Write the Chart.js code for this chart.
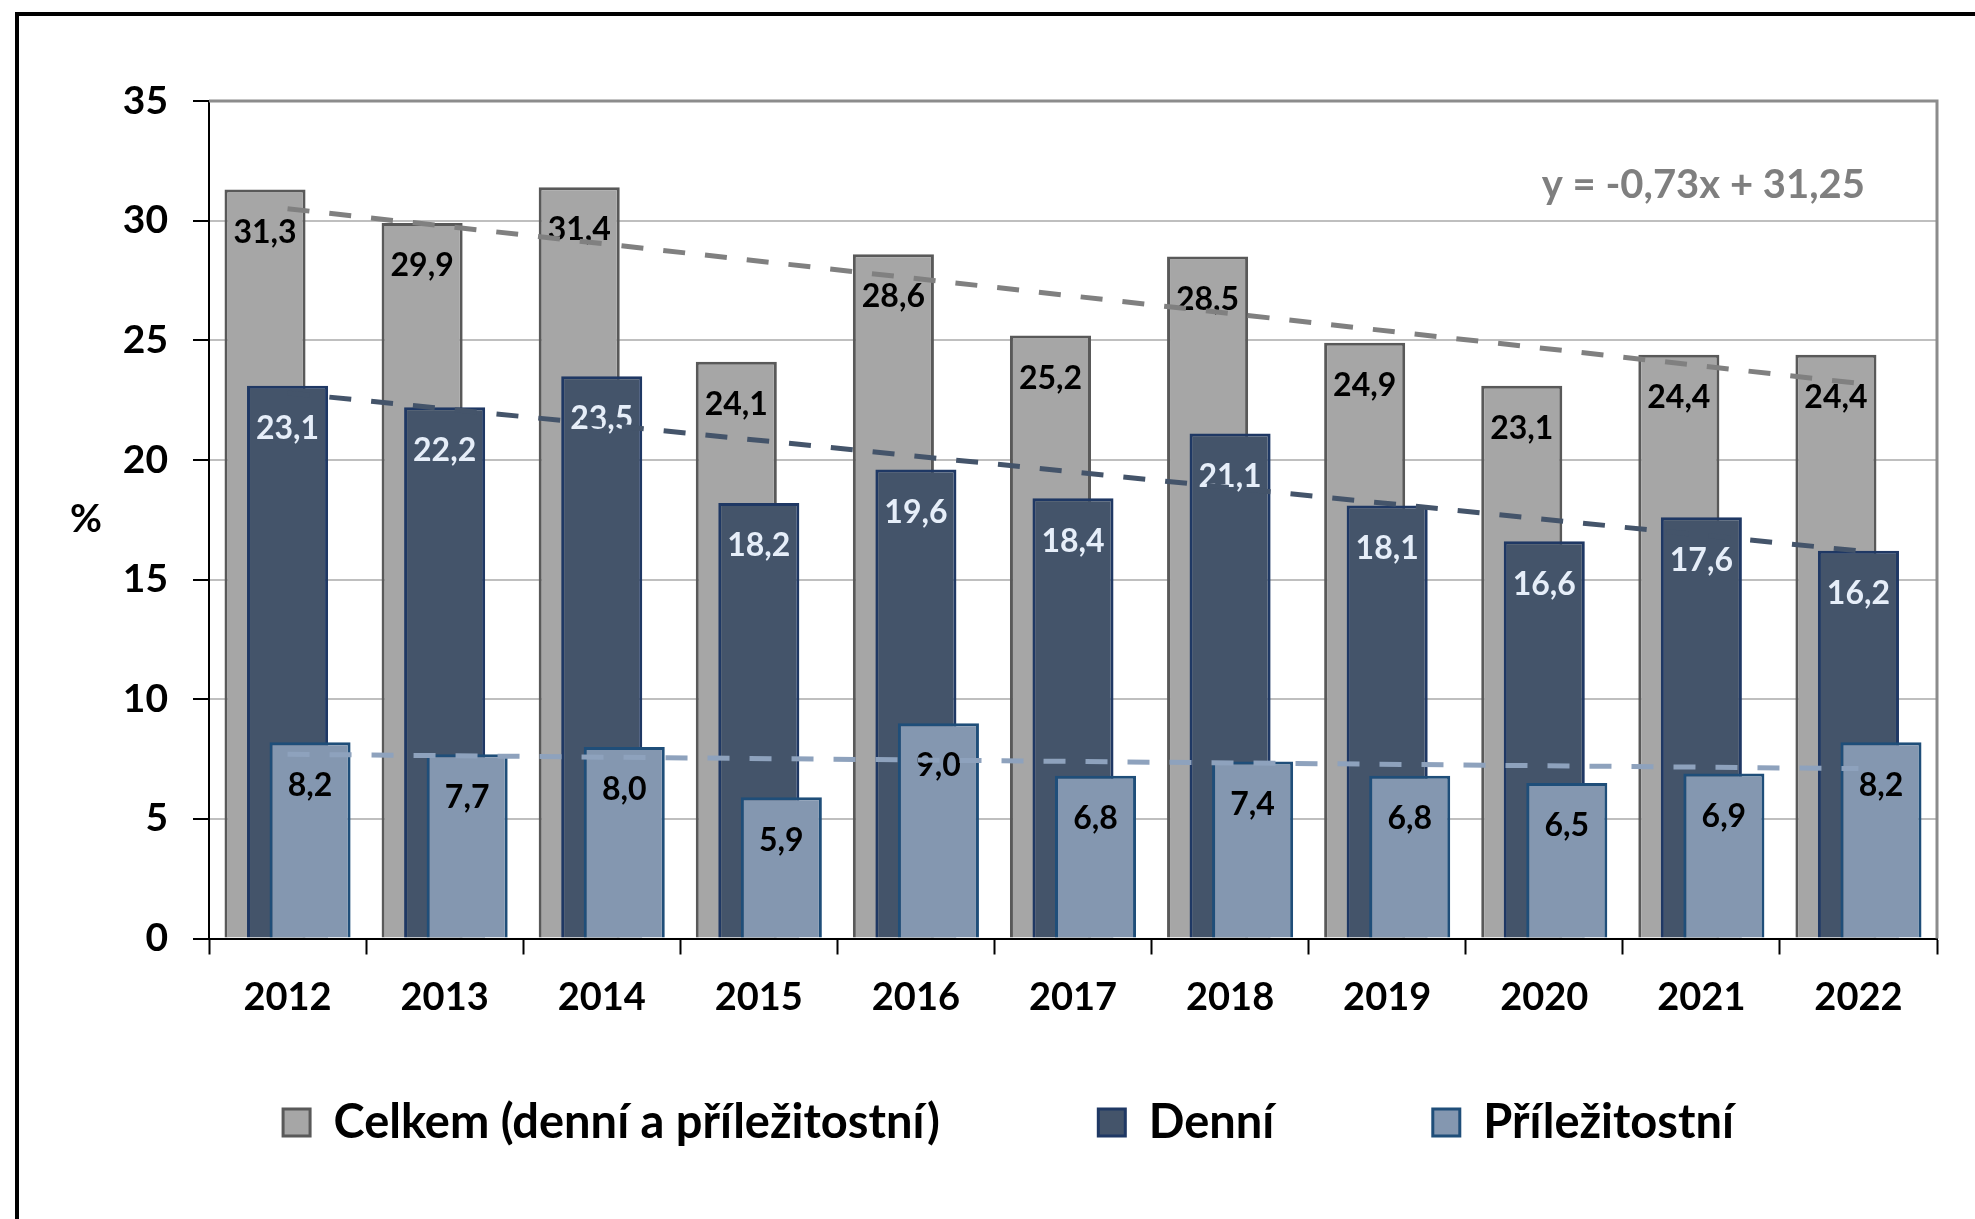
<!DOCTYPE html>
<html lang="cs">
<head>
<meta charset="utf-8">
<title>Kouření 2012–2022</title>
<script src="https://cdn.jsdelivr.net/npm/chart.js@4.4.1/dist/chart.umd.min.js"></script>
<style>
    html, body { margin: 0; padding: 0; background: #fff; overflow: hidden; }
    #wrap { position: relative; width: 1975px; height: 1219px; }
    #frame { position: absolute; left: 15px; top: 12px; width: 3000px; height: 3000px;
             border-left: 4px solid #000; border-top: 4px solid #000; }
    #chart { position: absolute; left: 0; top: 0; }
</style>
</head>
<body>
<div id="wrap">
    <div id="frame"></div>
    <canvas id="chart" width="1975" height="1219"></canvas>
</div>
<script>
const years = ['2012', '2013', '2014', '2015', '2016', '2017', '2018', '2019', '2020', '2021', '2022'];
const celkem = [31.3, 29.9, 31.4, 24.1, 28.6, 25.2, 28.5, 24.9, 23.1, 24.4, 24.4];
const denni = [23.1, 22.2, 23.5, 18.2, 19.6, 18.4, 21.1, 18.1, 16.6, 17.6, 16.2];
const prilezitostni = [8.2, 7.7, 8.0, 5.9, 9.0, 6.8, 7.4, 6.8, 6.5, 6.9, 8.2];

// trend lines, only the end points
const trendCelkem = [30.5, null, null, null, null, null, null, null, null, null, 23.2];
const trendDenni = [22.8, null, null, null, null, null, null, null, null, null, 16.2];
const trendPrilez = [7.7, null, null, null, null, null, null, null, null, null, 7.1];

const seriesNames = ['Celkem (denní a příležitostní)', 'Denní', 'Příležitostní'];
const equationText = 'y = -0,73x + 31,25';
const yMax = 35;
const yStep = 5;

Chart.defaults.font.family = 'Lato, "Open Sans", sans-serif';
Chart.defaults.font.weight = 'bold';
Chart.defaults.color = '#000';

const labelColors = ['#000', '#e6eef9', '#000'];
const legendGaps = [13, 13, 0];

function fmt(v) {
    return v.toFixed(1).replace('.', ',');
}

// bars back to front, then their numbers, then the dashed trends on top
const layers = {
    id: 'layers',
    beforeDatasetsDraw(chart) {
        const ctx = chart.ctx;
        const area = chart.chartArea;
        const yScale = chart.scales.y;

        ctx.save();
        ctx.strokeStyle = '#8c8c8c';
        ctx.lineWidth = 3;
        ctx.beginPath();
        ctx.moveTo(area.left, area.top);
        ctx.lineTo(area.right, area.top);
        ctx.lineTo(area.right, area.bottom);
        ctx.stroke();
        ctx.restore();

        [0, 1, 2].forEach(i => {
            const meta = chart.getDatasetMeta(i);
            meta.controller.draw();
            ctx.save();
            ctx.font = 'bold 32px Lato, "Open Sans", sans-serif';
            ctx.textAlign = 'center';
            ctx.textBaseline = 'middle';
            ctx.fillStyle = labelColors[i];
            meta.data.forEach((bar, j) => {
                ctx.fillText(fmt(chart.data.datasets[i].data[j]), bar.x, bar.y + 43);
            });
            ctx.restore();
        });
        [3, 4, 5].forEach(i => chart.getDatasetMeta(i).controller.draw());

        ctx.save();
        ctx.font = 'bold 40px Lato, "Open Sans", sans-serif';
        ctx.fillStyle = '#7f7f7f';
        ctx.textAlign = 'right';
        ctx.textBaseline = 'middle';
        ctx.fillText(equationText, area.right - 72, yScale.getPixelForValue(31.5));
        ctx.fillStyle = '#000';
        ctx.font = 'bold 39px Lato, "Open Sans", sans-serif';
        ctx.textAlign = 'center';
        ctx.fillText('%', area.left - 123, yScale.getPixelForValue(17.5));
        ctx.restore();
        return false;
    }
};

function trendSet(data, color) {
    return {
        type: 'line',
        data,
        borderColor: color,
        borderWidth: 5,
        borderDash: [22, 20],
        pointRadius: 0,
        spanGaps: true,
        fill: false,
    };
}

const chart = new Chart(document.getElementById('chart'), {
    type: 'bar',
    data: {
        labels: years,
        datasets: [
            { label: seriesNames[0], data: celkem, backgroundColor: '#a6a6a6', borderColor: '#595959', borderWidth: 3 },
            { label: seriesNames[1], data: denni, backgroundColor: '#44546a', borderColor: '#1f3864', borderWidth: 3 },
            { label: seriesNames[2], data: prilezitostni, backgroundColor: '#8497b0', borderColor: '#1f4e79', borderWidth: 3 },
            trendSet(trendCelkem, '#808080'),
            trendSet(trendDenni, '#44546a'),
            trendSet(trendPrilez, '#8ea2bd'),
        ],
    },
    options: {
        responsive: false,
        animation: false,
        devicePixelRatio: 1,
        categoryPercentage: 0.43,
        barPercentage: 3.6,
        layout: { padding: { left: 80, right: 38, top: 101, bottom: 63 } },
        scales: {
            x: {
                grid: { offset: true, drawOnChartArea: false, tickLength: 16, tickColor: '#000', tickWidth: 2 },
                border: { color: '#000', width: 2 },
                ticks: { font: { size: 38, weight: 'bold' }, padding: 20, color: '#000' },
                afterFit(scale) { scale.height = 150.5; },
            },
            y: {
                min: 0,
                max: yMax,
                ticks: { stepSize: yStep, font: { size: 39, weight: 'bold' }, padding: 25, color: '#000' },
                grid: { color: '#bfbfbf', lineWidth: 2, tickLength: 16, tickColor: '#000', tickWidth: 2 },
                border: { color: '#000', width: 2 },
                afterFit(scale) { scale.width = 129; },
            },
        },
        plugins: {
            tooltip: { enabled: false },
            legend: {
                position: 'bottom',
                labels: {
                    boxWidth: 27,
                    boxHeight: 27,
                    padding: 10,
                    color: '#000',
                    font: { size: 47, weight: 'bold' },
                    generateLabels(c) {
                        const items = Chart.defaults.plugins.legend.labels.generateLabels(c);
                        return items.filter(it => it.datasetIndex < 3).map((it, i) => {
                            it.text = it.text + ' '.repeat(legendGaps[i]);
                            return it;
                        });
                    },
                },
            },
        },
    },
    plugins: [layers],
});
</script>
</body>
</html>
